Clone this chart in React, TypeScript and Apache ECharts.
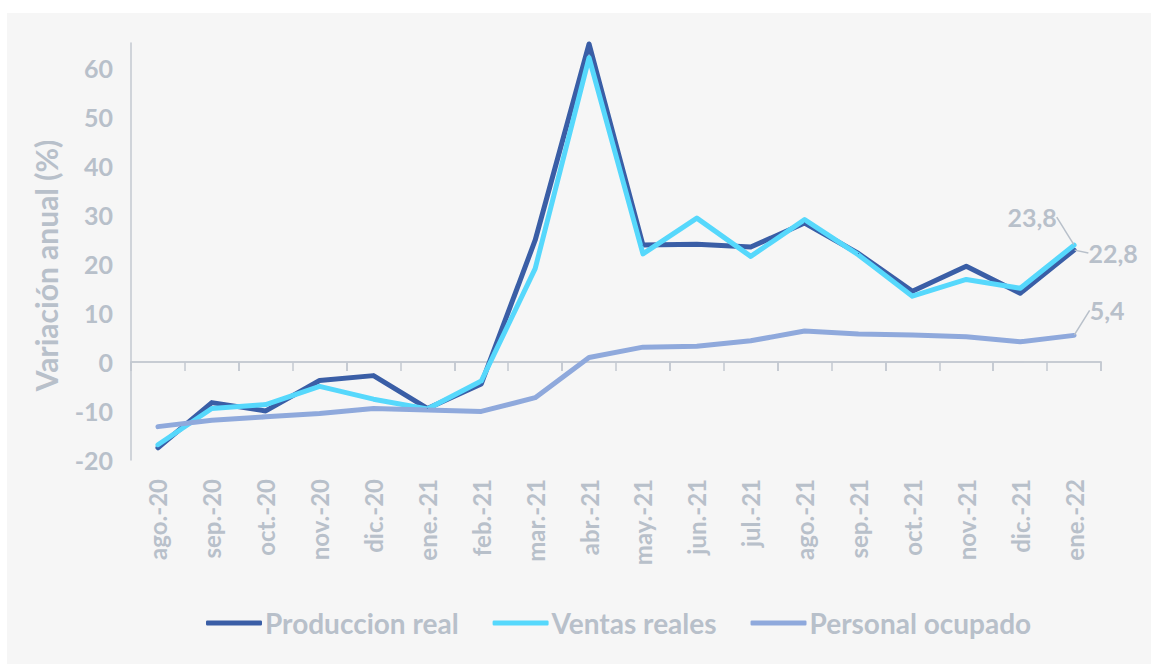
import React, { useEffect, useRef } from "react";
import * as echarts from "echarts";

const categories = [
  "ago.-20", "sep.-20", "oct.-20", "nov.-20", "dic.-20", "ene.-21", "feb.-21", "mar.-21", "abr.-21",
  "may.-21", "jun.-21", "jul.-21", "ago.-21", "sep.-21", "oct.-21", "nov.-21", "dic.-21", "ene.-22",
];
const produccion = [-17.5, -8.3, -10.0, -3.8, -2.8, -9.5, -4.5, 24.8, 64.8, 23.8, 24.0, 23.4, 28.3, 22.1, 14.4, 19.5, 14.0, 22.8];
const ventas = [-16.9, -9.5, -8.7, -5.0, -7.6, -9.6, -3.9, 19.0, 62.0, 22.0, 29.3, 21.5, 29.0, 21.8, 13.4, 16.8, 15.0, 23.8];
const personal = [-13.2, -11.9, -11.2, -10.5, -9.5, -9.8, -10.1, -7.3, 0.9, 3.0, 3.2, 4.3, 6.3, 5.7, 5.5, 5.1, 4.1, 5.4];
const seriesNames = ["Produccion real", "Ventas reales", "Personal ocupado"];

const GRAY = "#b8c0ca";
const AXIS = "#c3c9d1";
const FONT = "Lato";

function withEndLabel(values: number[]) {
  return values.map((v, i) =>
    i === values.length - 1
      ? { value: v, label: { show: true }, labelLine: { show: true } }
      : v
  );
}

export default function App() {
  const ref = useRef<HTMLDivElement>(null);
  useEffect(() => {
    if (!ref.current) return;
    const chart = echarts.init(ref.current, undefined, { renderer: "svg" });
    const labelBase = {
      show: false,
      position: "inside",
      color: GRAY,
      fontFamily: FONT,
      fontWeight: "bold",
      fontSize: 25,
      formatter: (p: any) => String(Number(p.value).toFixed(1)).replace(".", ","),
    };
    const labelLineBase = { show: false, lineStyle: { color: GRAY, width: 1.5 } };
    const mk = (name: string, data: number[], color: string, dx: number, dy: number) => ({
      name,
      type: "line",
      data: withEndLabel(data),
      xAxisIndex: 0,
      yAxisIndex: 0,
      symbol: "circle",
      symbolSize: 1,
      showSymbol: true,
      itemStyle: { color },
      lineStyle: { color, width: 5, cap: "round", join: "round" },
      label: labelBase,
      labelLine: labelLineBase,
      labelLayout: { dx, dy },
    });
    const yCommon = { type: "value", min: -20, max: 65, interval: 10 };
    chart.setOption({
      animation: false,
      backgroundColor: "#f6f6f6",
      grid: { left: 124, right: 50, top: 30, bottom: 204, containLabel: false },
      legend: {
        left: 194,
        top: 591,
        icon: "roundRect",
        itemWidth: 56,
        itemHeight: 5,
        itemGap: 34,
        data: seriesNames,
        textStyle: { color: GRAY, fontFamily: FONT, fontWeight: "bold", fontSize: 28, padding: [0, 0, 0, -2] },
      },
      xAxis: [
        {
          type: "category",
          data: categories,
          boundaryGap: true,
          axisLine: { onZero: true, onZeroAxisIndex: 0, lineStyle: { color: AXIS, width: 1.5 } },
          axisTick: { show: true, inside: false, length: 9, lineStyle: { color: AXIS, width: 1.5 } },
          axisLabel: {
            rotate: 90,
            margin: 19,
            color: GRAY,
            fontFamily: FONT,
            fontWeight: "bold",
            fontSize: 24,
            interval: 0,
          },
          splitLine: { show: false },
        },
        {
          type: "category",
          data: categories,
          boundaryGap: true,
          axisLine: { onZero: true, onZeroAxisIndex: 1, lineStyle: { color: AXIS, width: 1.5 } },
          axisTick: { show: true, inside: true, length: 9, lineStyle: { color: AXIS, width: 1.5 } },
          axisLabel: { show: false },
          splitLine: { show: false },
        },
      ],
      yAxis: [
        {
          ...yCommon,
          name: "Variación anual (%)",
          nameLocation: "middle",
          nameGap: 70,
          nameRotate: 90,
          nameTextStyle: { color: GRAY, fontFamily: FONT, fontWeight: "bold", fontSize: 30, padding: [0, 28, 0, 0] },
          axisLine: { show: true, onZero: false, lineStyle: { color: AXIS, width: 1.5 } },
          axisTick: { show: false },
          splitLine: { show: false },
          axisLabel: {
            showMaxLabel: false,
            margin: 18,
            color: GRAY,
            fontFamily: FONT,
            fontWeight: "bold",
            fontSize: 25,
          },
        },
        {
          ...yCommon,
          position: "left",
          axisLine: { show: false, onZero: false },
          axisTick: { show: false },
          axisLabel: { show: false },
          splitLine: { show: false },
        },
      ],
      series: [
        mk(seriesNames[0], produccion, "#3a5ea6", 39, 3),
        mk(seriesNames[1], ventas, "#56d8fc", -42, -28),
        mk(seriesNames[2], personal, "#8fa9dc", 33, -25),
      ],
    });
    return () => chart.dispose();
  }, []);
  return (
    <div
      ref={ref}
      style={{ position: "fixed", left: 7, top: 13, width: 1144, height: 651 }}
    />
  );
}
